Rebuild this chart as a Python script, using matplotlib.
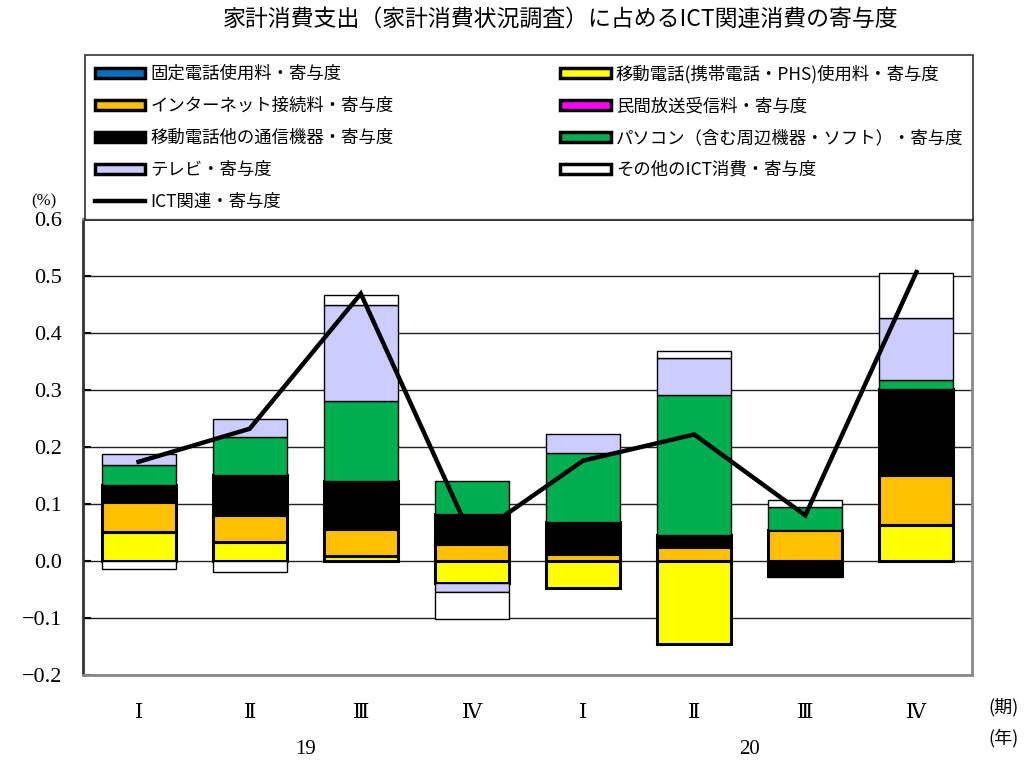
import matplotlib
matplotlib.use("Agg")
import matplotlib.pyplot as plt
from matplotlib.patches import Patch
from matplotlib.lines import Line2D
import numpy as np

plt.rcParams['font.family'] = ['Noto Sans CJK JP', 'DejaVu Sans']

quarters = ["Ⅰ", "Ⅱ", "Ⅲ", "Ⅳ", "Ⅰ", "Ⅱ", "Ⅲ", "Ⅳ"]
years = ["19", "20"]

series_names = [
    "固定電話使用料・寄与度",
    "移動電話(携帯電話・PHS)使用料・寄与度",
    "インターネット接続料・寄与度",
    "民間放送受信料・寄与度",
    "移動電話他の通信機器・寄与度",
    "パソコン（含む周辺機器・ソフト）・寄与度",
    "テレビ・寄与度",
    "その他のICT消費・寄与度",
]
fixed_line = [0, 0, 0, 0, 0, 0, 0, 0]
mobile_use = [0.051, 0.033, 0.008, -0.039, -0.047, -0.146, 0.0, 0.064]
internet = [0.052, 0.048, 0.048, 0.029, 0.012, 0.025, 0.054, 0.087]
broadcast = [0, 0, 0, 0, 0, 0, 0, 0]
mobile_dev = [0.031, 0.070, 0.084, 0.054, 0.057, 0.021, -0.026, 0.150]
pc = [0.034, 0.066, 0.140, 0.057, 0.120, 0.245, 0.040, 0.017]
tv = [0.020, 0.033, 0.169, -0.016, 0.034, 0.066, -0.002, 0.108]
other = [-0.0135, -0.019, 0.018, -0.047, 0.0, 0.011, 0.013, 0.080]
ict_total = [0.174, 0.232, 0.469, 0.040, 0.176, 0.222, 0.080, 0.507]
ict_name = "ICT関連・寄与度"

colors = ["#0070C0", "#FFFF00", "#FFC000", "#FF00FF", "#000000", "#00B050", "#CCCCFF", "#FFFFFF"]
edge_w = [1.0, 2.2, 2.2, 1.0, 2.2, 1.0, 1.0, 1.0]
data = [fixed_line, mobile_use, internet, broadcast, mobile_dev, pc, tv, other]

fig = plt.figure(figsize=(10.29, 7.64), dpi=100)
ax = fig.add_axes([83/1029, 1-675/764, (972-83)/1029, (675-219)/764])

x = np.arange(len(quarters))
pos_bottom = np.zeros(len(x))
neg_bottom = np.zeros(len(x))
for vals, c, w in zip(data, colors, edge_w):
    v = np.array(vals, dtype=float)
    bottoms = np.where(v >= 0, pos_bottom, neg_bottom)
    lws = [w if val != 0 else 0 for val in v]
    ax.bar(x, v, width=0.667, bottom=bottoms, color=c, edgecolor="black",
           linewidth=lws, zorder=3)
    pos_bottom += np.where(v > 0, v, 0)
    neg_bottom += np.where(v < 0, v, 0)

ax.plot(x, ict_total, color="black", lw=3.2, zorder=4, solid_joinstyle="miter")

ax.set_xlim(-0.5, 7.5)
ax.set_ylim(-0.2, 0.6)
ticks = np.arange(-0.2, 0.61, 0.1)
ax.set_yticks(ticks)
ax.set_yticklabels([f"{t:.1f}".replace("-", "\u2212") for t in ticks],
                   family=['Liberation Serif'], fontsize=16)
ax.grid(axis="y", color="#222222", lw=1.0, zorder=0)
ax.tick_params(axis="y", direction="in", length=6, width=1.5, pad=15)
ax.set_xticks(x)
ax.set_xticklabels(quarters, family=['DejaVu Serif', 'Noto Sans CJK JP'], fontsize=15)
ax.tick_params(axis="x", length=0, pad=20)
for s in ax.spines.values():
    s.set_color("#888888")
    s.set_linewidth(2)
ax.spines["left"].set_color("#333333")

fig.text(44/1029, 1-201/764, "(%)", family=['Liberation Serif'], fontsize=12, ha="center", va="center")
fig.text(1003/1029, 1-707/764, "(期)", fontsize=13, ha="center", va="center")
fig.text(1003/1029, 1-738/764, "(年)", fontsize=13, ha="center", va="center")
for xi, yr in zip([1.5, 5.5], years):
    xf = (83 + (xi + 0.5) * (972 - 83) / 8) / 1029
    fig.text(xf, 1-750/764, yr, family=['Liberation Serif'], fontsize=15, ha="center", va="center")

fig.text(0.545, 1-19/764, "家計消費支出（家計消費状況調査）に占めるICT関連消費の寄与度",
         fontsize=16.5, ha="center", va="center")

handles = []
names = []
for i in [0, 2, 4, 6]:
    handles.append(Patch(facecolor=colors[i], edgecolor="black", linewidth=2.5))
    names.append(series_names[i])
handles.append(Line2D([0], [0], color="black", lw=3.2))
names.append(ict_name)
for i in [1, 3, 5, 7]:
    handles.append(Patch(facecolor=colors[i], edgecolor="black", linewidth=2.5))
    names.append(series_names[i])

leg = fig.legend(handles, names, ncol=2, loc="upper left",
                 bbox_to_anchor=(85/1029, 1-55/764, (973-85)/1029, 0.0),
                 mode="expand", fontsize=12.5, frameon=True, fancybox=False,
                 edgecolor="black", handlelength=2.9, handleheight=0.5,
                 handletextpad=0.3, labelspacing=0.8, borderpad=0.55,
                 borderaxespad=0)
leg.get_frame().set_linewidth(1.2)

fig.savefig("out.png", dpi=100)
